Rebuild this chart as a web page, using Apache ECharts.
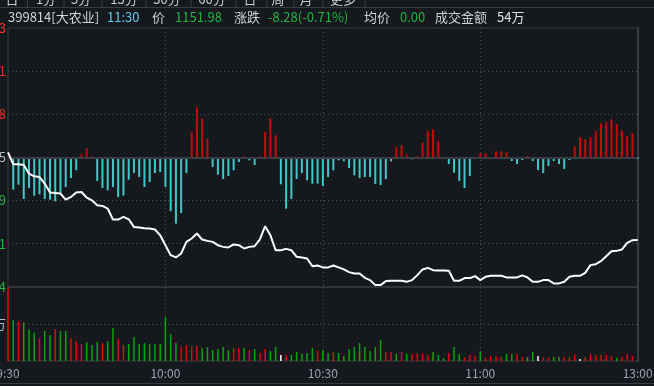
<!DOCTYPE html>
<html><head><meta charset="utf-8">
<script src="https://cdn.jsdelivr.net/npm/echarts@6/dist/echarts.min.js"></script>
<style>html,body{margin:0;padding:0;background:#15181d;overflow:hidden}#c{width:654px;height:386px;}</style>
</head><body><div id="c"></div>
<script>
// ---------- data ----------
const timeLabels = ['9:30', '10:00', '10:30', '11:00', '13:00'];
const prevClose = 1160.26;
const priceTickLabels = ['1147.34', '1151.61', '1155.99', '1160.25', '1164.58', '1168.91', '1173.23'];
const volumeTickLabel = '37万';
const tabLabels = ['日', '1分', '5分', '15分', '30分', '60分', '日', '周', '月', '更多'];

const price = [1160.76,1159.56,1159.56,1159.49,1158.63,1158.36,1158.29,1157.63,1156.73,1156.69,
1156.63,1156.03,1156.29,1156.73,1156.79,1156.23,1155.96,1155.46,1155.39,1155.13,
1154.03,1154.03,1154.29,1154.06,1153.29,1153.23,1153.16,1153.13,1153.03,1152.46,
1151.46,1150.46,1150.23,1150.63,1151.79,1152.13,1152.63,1152.03,1151.89,1151.79,
1151.46,1151.29,1151.23,1151.53,1151.46,1151.13,1151.29,1151.36,1152.03,1153.36,
1152.46,1150.96,1150.96,1151.09,1150.96,1150.29,1150.23,1150.13,1149.36,1149.43,
1149.23,1149.23,1149.43,1149.23,1149.03,1148.76,1148.63,1148.63,1148.19,1147.96,
1147.46,1147.46,1147.86,1147.89,1147.89,1147.89,1147.79,1147.96,1148.46,1149.03,
1149.19,1148.96,1148.93,1148.93,1148.89,1147.89,1147.89,1148.16,1148.16,1148.36,
1147.96,1148.29,1148.39,1148.39,1148.39,1148.23,1148.23,1148.23,1148.43,1148.23,
1147.79,1147.79,1147.96,1147.96,1147.63,1147.63,1147.79,1148.29,1148.39,1148.39,
1148.69,1149.46,1149.56,1149.86,1150.36,1150.86,1150.89,1151.03,1151.69,1151.96,
1151.98];

const strength = [0,-32.3,-27.3,-41.7,-30.7,-38.3,-37,-41.7,-42.3,-44,
-36,-29.7,-20.7,-13,3,9,1,-23.7,-30.7,-33,
-29.7,-39.7,-38.3,-22.3,-15.7,-19.7,-29.7,-24.7,-15.7,-14.7,
-29.7,-53.7,-66.3,-55.7,-15.7,25,50,38.7,18.7,-9.7,
-17.3,-21.7,-18.7,-13,-4.7,1,-3,-7.7,1,25,
39,22,-27,-51.3,-41.7,-21.7,-15.7,-23,-26.3,-26.3,
-28.7,-19.7,-13,-3,-4,-10.7,-18,-20.7,-19.7,-19.7,
-26.7,-27.7,-21.7,-4,10,12,3,-2,1,15,
26,28,16,0.5,-6.7,-15.3,-23.7,-30.7,-18.7,0.5,
4,4,-1.7,6,6,5,-3.7,-6.7,-2.7,1.3,
-3.7,-12.7,-15.7,-8.7,-3.7,-6.7,-11.7,-2.7,11.3,20,
18,20,26,34,35,38,33,27,21,24,
-1.7];

const volume = [73.7,41,39.7,38.7,31.7,28.3,23,30,26,32,
30,30,23,20,17,19,16,19,18,20,
33,22,16,17,24,17,18,17,17,17,
44,27,18,14,16,15,15,13,14,11,
12,14,11,13,13,13,11,12,8,12,
10,14,6,6,6,9,7,8,13,10.3,
11,8,9,8,5,12,14,18,14,10,
14,21,9,9,7,9,7,7,8,7,
6,9,6,3,8,14,7,4,6,5,
9.7,3,5,5,4,7,7,7,4,4,
9,5,4,3,4,4,4,4,7,2,
4,7,6,6,6,5,3,4,7,5,
0];

const volumeDir = ('rgrgggrggr' + 'ggrrrgggrg' + 'grrggggggg' + 'gggrrrrggg' + 'gggrrgrgrr' +
  'ggwrgggggr' + 'ggrggggggg' + 'ggrrgrgrrr' + 'rgggrggrrr' + 'grrrrggrrg' +
  'gwrrggrrrw' + 'rrrrrrgrrr' + 'r').split('');

// ---------- style ----------
const BG = '#15181d';
const LINE = '#383b41';
const DOT = '#4a4e55';
const RED = '#e8302c';
const GREEN = '#1fb33f';
const GRAYTXT = '#b4b8bd';
const FONT = '"Noto Sans CJK SC", "Noto Sans", sans-serif';

const priceMin = 1147.30, priceMax = 1173.22;

const chart = echarts.init(document.getElementById('c'), null, {renderer: 'canvas'});

const infoItems = [
  {t: '399814[大农业]', c: '#cdd4db', x: 8},
  {t: '11:30', c: '#62c6e8', x: 107},
  {t: '价', c: '#cdd1d5', x: 152},
  {t: '1151.98', c: GREEN, x: 175},
  {t: '涨跌', c: '#cdd1d5', x: 234},
  {t: '-8.28(-0.71%)', c: GREEN, x: 268},
  {t: '均价', c: '#cdd1d5', x: 364},
  {t: '0.00', c: GREEN, x: 400},
  {t: '成交金额', c: '#cdd1d5', x: 435},
  {t: '54万', c: '#e2e4e6', x: 497}
];
const tabCenters = [12, 46, 81, 124, 167, 212, 250, 278, 306, 343];
const tabSeps = [27.5, 64, 102, 146, 191, 236, 267, 294, 323, 365];

const graphic = [];
infoItems.forEach(it => graphic.push({type: 'text', x: it.x, y: 17, silent: true,
  style: {text: it.t, fill: it.c, font: '13px ' + FONT, verticalAlign: 'middle', align: 'left'}}));
tabLabels.forEach((t, i) => graphic.push({type: 'text', x: tabCenters[i], y: -1, silent: true,
  style: {text: t, fill: '#c8cbcf', font: '13px ' + FONT, verticalAlign: 'middle', align: 'center'}}));
tabSeps.forEach(x => graphic.push({type: 'line', silent: true, shape: {x1: x, y1: 0, x2: x, y2: 7},
  style: {stroke: LINE, lineWidth: 1}}));
graphic.push({type: 'line', silent: true, shape: {x1: 0, y1: 7.5, x2: 654, y2: 7.5}, style: {stroke: LINE, lineWidth: 1}});
graphic.push({type: 'line', silent: true, shape: {x1: 0, y1: 383.5, x2: 654, y2: 383.5}, style: {stroke: LINE, lineWidth: 1}});

const idx = a => a.map((v, i) => [i, v]);

const option = {
  backgroundColor: BG,
  animation: false,
  graphic: graphic,
  grid: [
    {left: 8, right: 16.3, top: 28, height: 258.7, show: true, borderColor: LINE, borderWidth: 1,
      backgroundColor: 'transparent', containLabel: false, outerBoundsMode: 'none'},
    {left: 8, right: 16.3, top: 287.3, height: 73.7, show: true, borderColor: LINE, borderWidth: 1,
      backgroundColor: 'transparent', containLabel: false, outerBoundsMode: 'none'}
  ],
  xAxis: [
    {type: 'value', gridIndex: 0, min: 0, max: 120, interval: 30,
      axisLine: {show: false}, axisTick: {show: false}, axisLabel: {show: false},
      splitLine: {show: true, showMinLine: false, showMaxLine: false, lineStyle: {color: DOT, type: [1, 3]}}},
    {type: 'value', gridIndex: 1, min: 0, max: 120, interval: 30,
      axisLine: {show: false}, axisTick: {show: false},
      axisLabel: {show: true, margin: 6, color: '#98a3b3', fontSize: 12, fontFamily: FONT,
        formatter: v => timeLabels[Math.round(v / 30)] || ''},
      splitLine: {show: true, showMinLine: false, showMaxLine: false, lineStyle: {color: DOT, type: [1, 3]}}}
  ],
  yAxis: [
    {type: 'value', gridIndex: 0, min: -3, max: 3, interval: 1, position: 'left',
      axisLine: {show: false}, axisTick: {show: false},
      axisLabel: {show: true, margin: 2, fontSize: 13, fontFamily: FONT,
        formatter: v => priceTickLabels[Math.round(v) + 3] || '',
        color: v => v > 0 ? RED : (v < 0 ? GREEN : GRAYTXT)},
      splitLine: {show: true, showMinLine: false, showMaxLine: false, lineStyle: {color: DOT, type: [1, 3]}}},
    {type: 'value', gridIndex: 0, min: priceMin, max: priceMax, show: false},
    {type: 'value', gridIndex: 0, min: -129.35, max: 129.35, position: 'right',
      axisLine: {show: true, lineStyle: {color: LINE, width: 2}}, axisTick: {show: false},
      axisLabel: {show: false}, splitLine: {show: false}},
    {type: 'value', gridIndex: 1, min: 0, max: 74, interval: 37, position: 'left',
      axisLine: {show: false}, axisTick: {show: false},
      axisLabel: {show: true, margin: 2, fontSize: 13, fontFamily: FONT, color: GRAYTXT,
        formatter: v => (v === 37 ? volumeTickLabel : '')},
      splitLine: {show: true, showMinLine: false, showMaxLine: false, lineStyle: {color: DOT, type: [1, 3]}}},
    {type: 'value', gridIndex: 1, min: 0, max: 74, position: 'right',
      axisLine: {show: true, lineStyle: {color: LINE, width: 2}}, axisTick: {show: false},
      axisLabel: {show: false}, splitLine: {show: false}}
  ],
  series: [
    {type: 'bar', xAxisIndex: 0, yAxisIndex: 2, data: idx(strength), barWidth: 2, silent: true,
      itemStyle: {color: p => p.value[1] >= 0 ? '#c80a0a' : '#3ec9c9'},
      markLine: {silent: true, symbol: 'none', label: {show: false},
        lineStyle: {color: '#3a3d43', width: 2, type: 'solid'}, data: [{yAxis: 0}]},
      z: 2},
    {type: 'line', xAxisIndex: 0, yAxisIndex: 1, data: idx(price), showSymbol: false, silent: true,
      lineStyle: {color: '#ffffff', width: 2}, z: 5},
    {type: 'bar', xAxisIndex: 1, yAxisIndex: 3, data: idx(volume), barWidth: 1.5, silent: true,
      itemStyle: {color: p => {
        const d = volumeDir[p.dataIndex];
        return d === 'r' ? '#dc0a0a' : (d === 'g' ? '#0aa50a' : '#ffffff');
      }}, z: 2}
  ]
};
chart.setOption(option);
</script>
</body></html>
